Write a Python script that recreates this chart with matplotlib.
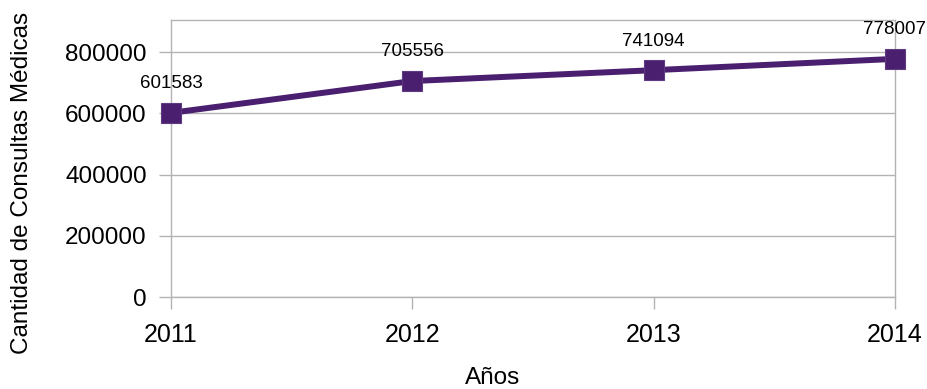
import matplotlib.pyplot as plt

years = ["2011", "2012", "2013", "2014"]
consultas = [601583, 705556, 741094, 778007]

plt.rcParams['font.family'] = ['Liberation Sans', 'DejaVu Sans']

fig = plt.figure(figsize=(9.27, 3.89), dpi=100)
ax = fig.add_axes([171/927, 1-297/389, (895-171)/927, (297-20)/389])

x = list(range(len(years)))
ax.plot(x, consultas, color="#4b1f6f", linewidth=4.3, marker="s", markersize=15,
        markerfacecolor="#4b1f6f", markeredgecolor="#5e3a80", markeredgewidth=0.8,
        clip_on=False, zorder=3)

#value labels above each point
for xi, v in zip(x, consultas):
    ax.annotate(str(v), (xi, v), xytext=(0, 21), textcoords="offset points",
                ha="center", va="center", fontsize=13.5)

ax.set_xlim(0, len(years)-1)
ax.set_ylim(0, 905000)
ax.set_xticks(x)
ax.set_xticklabels(years)
ax.set_yticks([0, 200000, 400000, 600000, 800000])
ax.set_yticklabels(["0", "200000", "400000", "600000", "800000"])
ax.tick_params(labelsize=17.5, colors="#b3b3b3", labelcolor="black", length=8.5, width=1)
ax.tick_params(axis="y", pad=9)
ax.tick_params(axis="x", labelsize=18, pad=10)
ax.yaxis.grid(True, color="#b3b3b3", linewidth=1)
ax.set_axisbelow(True)
for s in ax.spines.values():
    s.set_color("#b3b3b3")
    s.set_linewidth(1)

fig.text(493/927, 1-378/389, "Años", fontsize=17.5, ha="center", va="center")
fig.text(22/927, 1-183/389, "Cantidad de Consultas Médicas", fontsize=17.5,
         ha="center", va="center", rotation=90)

plt.savefig("out.png", dpi=100)
